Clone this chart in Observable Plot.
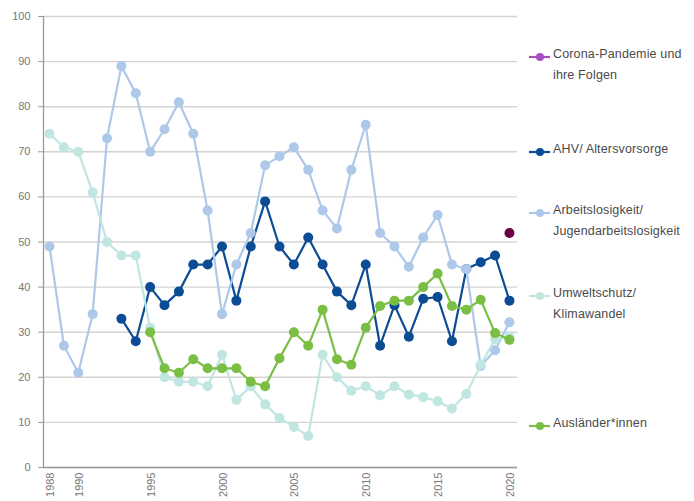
<!DOCTYPE html>
<html>
<head>
<meta charset="utf-8">
<script src="https://cdn.jsdelivr.net/npm/d3@7"></script>
<script src="https://cdn.jsdelivr.net/npm/@observablehq/plot@0.6"></script>
<style>
  html, body { margin: 0; padding: 0; background: #fff; }
  #wrap { position: relative; width: 694px; height: 501px; overflow: hidden; }
  #legend { position: absolute; left: 529px; top: 0; font-family: "Liberation Sans", Arial, sans-serif; font-size: 12.5px; color: #4a4a4a; letter-spacing: 0.15px; }
  .item { position: absolute; left: 0; display: flex; align-items: flex-start; white-space: nowrap; }
  .item svg { flex: none; margin-top: 3px; }
  .item span { margin-left: 3px; line-height: 21px; margin-top: -5px; }
</style>
</head>
<body>
<div id="wrap"><div id="legend"></div></div>
<script>
const years = [1988,1989,1990,1991,1992,1993,1994,1995,1996,1997,1998,1999,2000,2001,2002,2003,2004,2005,2006,2007,2008,2009,2010,2011,2012,2013,2014,2015,2016,2017,2018,2019,2020];

const ahv = [null,null,null,null,null,33,28,40,36,39,45,45,49,37,49,59,49,45,51,45,39,36,45,27,36,29,37.4,37.8,28,44,45.5,47,37];
const arbeit = [49,27,21,34,73,89,83,70,75,81,74,57,34,45,52,67,69,71,66,57,53,66,76,52,49,44.5,51,56,45,44,22.5,26,32.2];
const umwelt = [74,71,70,61,50,47,47,31,20,19,19,18,25,15,18,14,11,9,7,25,20,17,18,16,18,16.2,15.6,14.7,13.1,16.3,22.8,28.4,29];
const auslaender = [null,null,null,null,null,null,null,30,22,21,24,22,22,22,19,18,24.2,30,27,35,24,22.8,31,35.8,37,37,40,43,35.8,35,37.2,29.8,28.3];
const corona = [null,null,null,null,null,null,null,null,null,null,null,null,null,null,null,null,null,null,null,null,null,null,null,null,null,null,null,null,null,null,null,null,52];

const seriesNames = ["AHV/ Altersvorsorge","Arbeitslosigkeit/ Jugendarbeitslosigkeit","Umweltschutz/ Klimawandel","Ausländer*innen","Corona-Pandemie und ihre Folgen"];
const seriesValues = [ahv, arbeit, umwelt, auslaender, corona];
const seriesColors = ["#0b4c94","#aec8ea","#bfe6e1","#7abf43","#6c0047"];

const legendNames = [["Corona-Pandemie und","ihre Folgen"],["AHV/ Altersvorsorge"],["Arbeitslosigkeit/","Jugendarbeitslosigkeit"],["Umweltschutz/","Klimawandel"],["Ausländer*innen"]];
const legendColors = ["#a94ec2","#0b4c94","#aec8ea","#bfe6e1","#7abf43"];
const legendTops = [49,144,205,288,418];

const xTicks = [1988,1990,1995,2000,2005,2010,2015,2020];
const yTicks = [0,10,20,30,40,50,60,70,80,90,100];
const xDomain = [1987.58, 2020.56];

const seriesData = seriesNames.map((name, s) =>
  years.map((year, i) => ({year, value: seriesValues[s][i], series: name})));

const marks = [
  Plot.gridY(yTicks, {stroke: "#d4d4d4", strokeOpacity: 1, strokeWidth: 1.4}),
  Plot.axisY(yTicks, {tickSize: 5, tickPadding: 8, stroke: "#9a9a9a", fill: "#777", label: null, fontSize: 11}),
  Plot.axisX(xTicks, {tickSize: 0, tickPadding: 5, tickRotate: -90, tickFormat: d => String(d), fill: "#777", label: null, fontSize: 11, dx: 1}),
  Plot.ruleY([0], {stroke: "#9a9a9a", strokeWidth: 1.3}),
  Plot.ruleX([xDomain[0]], {stroke: "#9a9a9a", strokeWidth: 1.3})
];
seriesData.forEach((data, s) => {
  marks.push(Plot.line(data, {x: "year", y: "value", stroke: seriesColors[s], strokeWidth: 2.2, curve: "linear"}));
  marks.push(Plot.dot(data.filter(d => d.value != null), {x: "year", y: "value", fill: seriesColors[s], r: 5, stroke: "none"}));
});

const chart = Plot.plot({
  width: 694, height: 501,
  marginLeft: 43, marginRight: 177, marginTop: 16, marginBottom: 34,
  style: {fontFamily: "'Liberation Sans', Arial, sans-serif", fontSize: "11px", color: "#777", background: "white"},
  x: {domain: xDomain, label: null},
  y: {domain: [0, 100], label: null},
  marks
});
document.getElementById("wrap").prepend(chart);

const legend = document.getElementById("legend");
legendNames.forEach((lines, i) => {
  const item = document.createElement("div");
  item.className = "item";
  item.style.top = legendTops[i] + "px";
  item.innerHTML = `<svg width="21" height="10"><line x1="0" x2="21" y1="5" y2="5" stroke="${legendColors[i]}" stroke-width="2.2"/><circle cx="11" cy="5" r="4" fill="${legendColors[i]}"/></svg><span>${lines.join("<br>")}</span>`;
  legend.appendChild(item);
});
</script>
</body>
</html>
